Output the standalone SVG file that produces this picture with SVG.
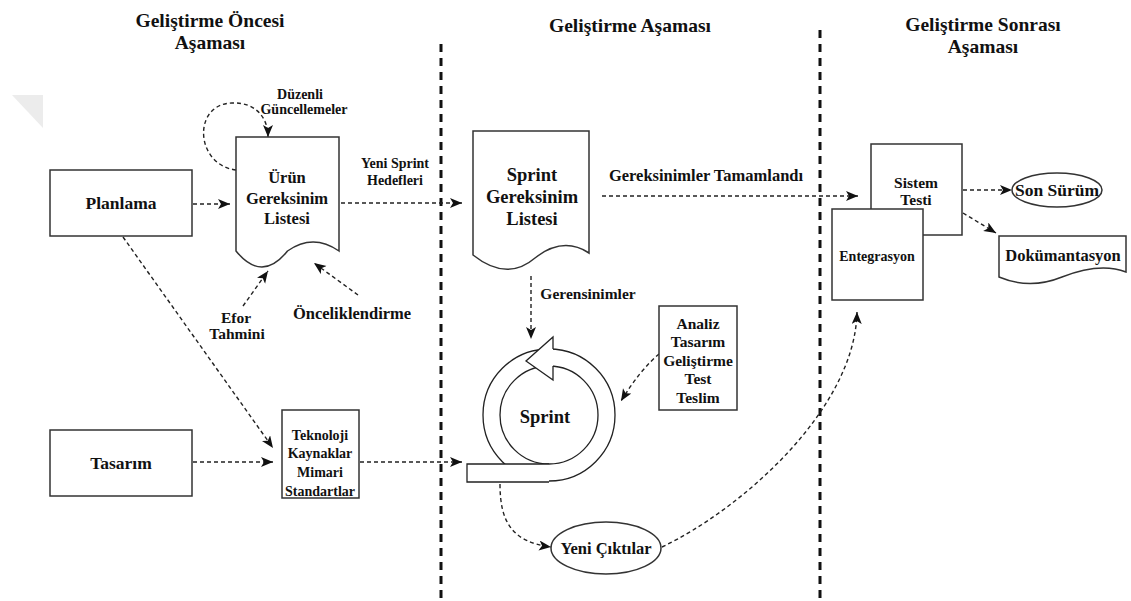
<svg xmlns="http://www.w3.org/2000/svg" width="1131" height="601" viewBox="0 0 1131 601" font-family="'Liberation Serif', 'DejaVu Serif', serif">
  <style>
    text { font-family: "Liberation Serif", "DejaVu Serif", serif; font-weight: bold; fill: #111; text-anchor: middle; dominant-baseline: central; }
    .box { fill: #fff; stroke: #333; stroke-width: 1.5; }
    .sep { fill: none; stroke: #111; stroke-width: 3; stroke-dasharray: 8 6; }
    .flow { fill: none; stroke: #222; stroke-width: 1.4; stroke-dasharray: 4 3; marker-end: url(#arrow); }
    .title { font-size: 19.5px; }
    .t18 { font-size: 18.5px; }
    .t17 { font-size: 17.5px; }
    .t16 { font-size: 16.5px; }
    .t15 { font-size: 15.5px; }
    .t14 { font-size: 14px; }
  </style>
  <defs>
    <marker id="arrow" markerUnits="userSpaceOnUse" markerWidth="14" markerHeight="12" refX="12" refY="5" orient="auto">
      <path d="M0,0 L12,5 L0,10 L3,5 Z" fill="#111"/>
    </marker>
  </defs>

  <rect width="1131" height="601" fill="#fff"/>
  <!-- faint corner mark -->
  <polygon points="12,95 43,95 43,128" fill="#ececec"/>

  <!-- phase titles -->
  <g id="titles">
    <text class="title" x="210" y="20">Geliştirme Öncesi</text>
    <text class="title" x="210" y="42">Aşaması</text>
    <text class="title" x="630" y="25">Geliştirme Aşaması</text>
    <text class="title" x="983" y="24">Geliştirme Sonrası</text>
    <text class="title" x="983" y="46">Aşaması</text>
  </g>

  <!-- phase separators -->
  <g id="separators">
    <line class="sep" x1="441" y1="44" x2="441" y2="601"/>
    <line class="sep" x1="820" y1="30" x2="820" y2="601"/>
  </g>

  <!-- connectors -->
  <g id="connectors">
    <path class="flow" d="M236,170 C 195,165 192,104 232,103 C 255,102 268,117 268,137"/>
    <path class="flow" d="M193,204 L230,204"/>
    <path class="flow" d="M341,203 L462,203"/>
    <path class="flow" d="M243,306 L268,271"/>
    <path class="flow" d="M358,295 L314,263"/>
    <path class="flow" d="M123,237 L273,448"/>
    <path class="flow" d="M193,462 L273,462"/>
    <path class="flow" d="M360,462 L462,462"/>
    <path class="flow" d="M531,276 L531,339"/>
    <path class="flow" d="M659,354 Q 640,370 621,401"/>
    <path class="flow" d="M500,484 C 500,522 512,542 551,547"/>
    <path class="flow" d="M662,547 C 740,510 855,410 857,312"/>
    <path class="flow" d="M602,196 L858,196"/>
    <path class="flow" d="M963,190 L1012,190"/>
    <path class="flow" d="M963,213 L996,233"/>
  </g>

  <!-- connector labels -->
  <g id="labels">
    <text class="t14" x="300" y="94">Düzenli</text>
    <text class="t14" x="304" y="109">Güncellemeler</text>
    <text class="t14" x="395" y="163">Yeni Sprint</text>
    <text class="t14" x="395" y="180">Hedefleri</text>
    <text class="t15" x="236" y="317">Efor</text>
    <text class="t15" x="237" y="333">Tahmini</text>
    <text class="t16" x="352" y="313">Önceliklendirme</text>
    <text class="t15" x="588" y="293">Gerensinimler</text>
    <text class="t16" x="706" y="175">Gereksinimler Tamamlandı</text>
  </g>

  <g id="planlama">
    <rect class="box" x="50" y="170" width="142" height="66"/>
    <text class="t17" x="121" y="203">Planlama</text>
  </g>

  <g id="tasarim">
    <rect class="box" x="50" y="430" width="142" height="66"/>
    <text class="t17" x="121" y="463">Tasarım</text>
  </g>

  <g id="urun-gereksinim">
    <path class="box" d="M236,137 H339 V251 Q313,233 287.5,251 Q262,283 236,251 Z"/>
    <text class="t16" x="287" y="177">Ürün</text>
    <text class="t16" x="287" y="198">Gereksinim</text>
    <text class="t16" x="287" y="218">Listesi</text>
  </g>

  <g id="teknoloji">
    <rect class="box" x="282" y="410" width="77" height="88"/>
    <text class="t14" x="320" y="435">Teknoloji</text>
    <text class="t14" x="320" y="453">Kaynaklar</text>
    <text class="t14" x="320" y="472">Mimari</text>
    <text class="t14" x="320" y="491">Standartlar</text>
  </g>

  <g id="sprint-gereksinim">
    <path class="box" d="M473,131 H589 V253 Q563,236 535,258 Q507,282 473,255 Z"/>
    <text class="t18" x="532" y="175">Sprint</text>
    <text class="t18" x="532" y="197">Gereksinim</text>
    <text class="t18" x="532" y="219">Listesi</text>
  </g>

  <g id="sprint">
    <circle cx="549" cy="415" r="66" fill="#fff" stroke="#222" stroke-width="1.3"/>
    <circle cx="549" cy="415" r="49" fill="#fff" stroke="#222" stroke-width="1.3"/>
    <path d="M549,464 H467 V482 H549" fill="#fff" stroke="#222" stroke-width="1.3"/>
    <path d="M553,349 L553,337 L526,361 L553,380 L553,366" fill="#fff" stroke="#222" stroke-width="1.3"/>
    <text class="t18" x="545" y="417">Sprint</text>
  </g>

  <g id="analiz">
    <rect class="box" x="659" y="306" width="78" height="104"/>
    <text class="t15" x="698" y="323">Analiz</text>
    <text class="t15" x="698" y="341">Tasarım</text>
    <text class="t15" x="698" y="360">Geliştirme</text>
    <text class="t15" x="698" y="378">Test</text>
    <text class="t15" x="698" y="397">Teslim</text>
  </g>

  <g id="yeni-ciktilar">
    <ellipse class="box" cx="606" cy="548" rx="55" ry="26"/>
    <text class="t16" x="606" y="548">Yeni Çıktılar</text>
  </g>

  <g id="sistem-testi">
    <rect class="box" x="871" y="144" width="91" height="91"/>
    <text class="t15" x="916" y="182">Sistem</text>
    <text class="t15" x="916" y="199">Testi</text>
  </g>

  <g id="entegrasyon">
    <rect class="box" x="832" y="209" width="91" height="91"/>
    <text class="t14" x="877" y="256">Entegrasyon</text>
  </g>

  <g id="son-surum">
    <ellipse class="box" cx="1057" cy="190" rx="45" ry="17"/>
    <text class="t17" x="1057" y="190">Son Sürüm</text>
  </g>

  <g id="dokumantasyon">
    <path class="box" d="M999,236 H1126 V272 Q1100,262 1062,277 Q1030,290 999,277 Z"/>
    <text class="t16" x="1063" y="255">Dokümantasyon</text>
  </g>
</svg>
